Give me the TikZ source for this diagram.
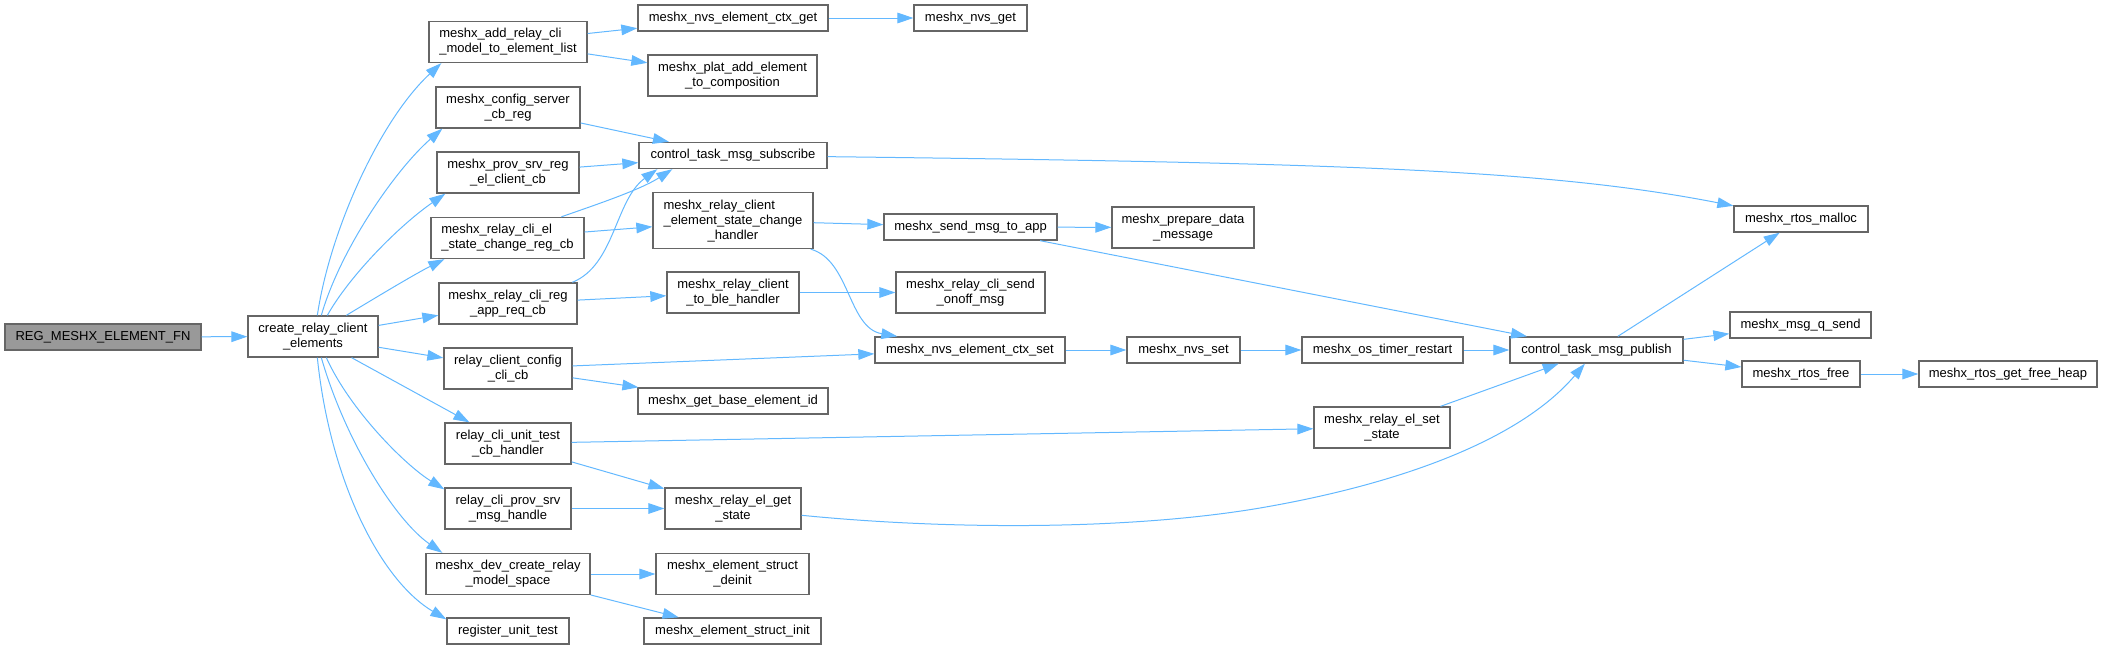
\documentclass[tikz,border=0pt]{standalone}
\usepackage{fontspec}
\setmainfont{Liberation Sans}
\usetikzlibrary{arrows.meta,calc}
\definecolor{edgeblue}{HTML}{63B8FF}
\definecolor{nodeborder}{HTML}{666666}
\definecolor{rootfill}{HTML}{999999}
\tikzset{
 fn/.style={draw=nodeborder, fill=white, line width=1pt, inner sep=0pt, align=center,
   font=\fontsize{9.75}{11.25}\selectfont, text=black},
 wd/.style={minimum width=#1*0.75pt},
 h1/.style={minimum height=19.5pt},
 h2/.style={minimum height=30.75pt},
 h3/.style={minimum height=42pt},
 edge/.style={draw=edgeblue, line width=0.75pt, -{Triangle[length=12pt,width=8pt]}},
}
\begin{document}
\begin{tikzpicture}[x=0.75pt,y=-0.75pt]
\useasboundingbox (0,0) rectangle (2102,650);
% column 1-2
\node[fn,wd=196,h1,fill=rootfill] (reg) at (103,337) {REG\_MESHX\_ELEMENT\_FN};
\node[fn,wd=130,h2] (create) at (313,336.5) {create\_relay\_client\\\_elements};
\node[fn,wd=158,h2] (addcli) at (508,42) {\begin{tabular}[b]{@{}l@{}}meshx\_add\_relay\_cli\\\_model\_to\_element\_list\end{tabular}};
\node[fn,wd=144,h2] (cfgsrv) at (508,107.5) {meshx\_config\_server\\\_cb\_reg};
\node[fn,wd=142,h2] (provsrv) at (508,172.5) {meshx\_prov\_srv\_reg\\\_el\_client\_cb};
\node[fn,wd=153,h2] (elreg) at (507.5,238) {\begin{tabular}[b]{@{}l@{}}meshx\_relay\_cli\_el\\\_state\_change\_reg\_cb\end{tabular}};
\node[fn,wd=138,h2] (appreq) at (508,303.5) {meshx\_relay\_cli\_reg\\\_app\_req\_cb};
\node[fn,wd=128,h2] (cfgcli) at (508,368.5) {relay\_client\_config\\\_cli\_cb};
\node[fn,wd=126,h2] (unittest) at (508,443.5) {relay\_cli\_unit\_test\\\_cb\_handler};
\node[fn,wd=126,h2] (provmsg) at (508,508.5) {relay\_cli\_prov\_srv\\\_msg\_handle};
\node[fn,wd=164,h2] (devcreate) at (508,574) {meshx\_dev\_create\_relay\\\_model\_space};
\node[fn,wd=122,h1] (regunit) at (508,631) {register\_unit\_test};
% column 3
\node[fn,wd=190,h1] (ctxget) at (733,18) {meshx\_nvs\_element\_ctx\_get};
\node[fn,wd=169,h2] (plat) at (732.5,75.5) {meshx\_plat\_add\_element\\\_to\_composition};
\node[fn,wd=188,h1] (subscribe) at (733,155.5) {control\_task\_msg\_subscribe};
\node[fn,wd=160,h3] (schandler) at (733,220.5) {\begin{tabular}[b]{@{}l@{}}meshx\_relay\_client\\\_element\_state\_change\end{tabular}\\\_handler};
\node[fn,wd=132,h2] (toble) at (733,292.5) {meshx\_relay\_client\\\_to\_ble\_handler};
\node[fn,wd=190,h1] (baseid) at (733,401) {meshx\_get\_base\_element\_id};
\node[fn,wd=136,h2] (getstate) at (733,508.5) {meshx\_relay\_el\_get\\\_state};
\node[fn,wd=153,h2] (deinit) at (732.5,574) {meshx\_element\_struct\\\_deinit};
\node[fn,wd=177,h1] (init) at (732.5,631) {meshx\_element\_struct\_init};
% column 4
\node[fn,wd=113,h1] (nvsget) at (970.5,18) {meshx\_nvs\_get};
\node[fn,wd=173,h1] (sendapp) at (970.5,227) {meshx\_send\_msg\_to\_app};
\node[fn,wd=149,h2] (onoff) at (970.5,292.5) {meshx\_relay\_cli\_send\\\_onoff\_msg};
\node[fn,wd=190,h1] (ctxset) at (970,350) {meshx\_nvs\_element\_ctx\_set};
% column 5-6
\node[fn,wd=142,h2] (prepare) at (1183,227.5) {meshx\_prepare\_data\\\_message};
\node[fn,wd=113,h1] (nvsset) at (1183.5,350) {meshx\_nvs\_set};
\node[fn,wd=161,h1] (timer) at (1382.5,350) {meshx\_os\_timer\_restart};
\node[fn,wd=136,h2] (setstate) at (1382,427.5) {meshx\_relay\_el\_set\\\_state};
% column 7-9
\node[fn,wd=173,h1] (publish) at (1596.5,350) {control\_task\_msg\_publish};
\node[fn,wd=134,h1] (malloc) at (1801,219) {meshx\_rtos\_malloc};
\node[fn,wd=141,h1] (qsend) at (1800.5,325) {meshx\_msg\_q\_send};
\node[fn,wd=118,h1] (free) at (1801,374) {meshx\_rtos\_free};
\node[fn,wd=178,h1] (heap) at (2008,374) {meshx\_rtos\_get\_free\_heap};
% edges
\draw[edge] (reg) -- (create);
\draw[edge] ($(create.north west)+(70,0)$) .. controls (330,230) and (380,120) .. ($(addcli.south west)+(13,0)$);
\draw[edge] ($(create.north west)+(74,0)$) .. controls (340,250) and (395,170) .. ($(cfgsrv.south west)+(7,0)$);
\draw[edge] ($(create.north west)+(80,0)$) .. controls (350,275) and (400,225) .. ($(provsrv.south west)+(9,0)$);
\draw[edge] ($(create.north west)+(99,0)$) .. controls (375,298) and (415,274) .. ($(elreg.south west)+(14,0)$);
\draw[edge] (create) -- (appreq);
\draw[edge] (create) -- (cfgcli);
\draw[edge] (create) -- (unittest);
\draw[edge] ($(create.south west)+(79,0)$) .. controls (350,410) and (405,465) .. ($(provmsg.north west)+(0,2)$);
\draw[edge] ($(create.south west)+(74,0)$) .. controls (345,440) and (395,520) .. ($(devcreate.north west)+(17,0)$);
\draw[edge] ($(create.south west)+(70,0)$) .. controls (330,480) and (380,580) .. ($(regunit.north west)+(0,2)$);
\draw[edge] (addcli) -- (ctxget);
\draw[edge] (addcli) -- (plat);
\draw[edge] (cfgsrv) -- (subscribe);
\draw[edge] (provsrv) -- (subscribe);
\draw[edge] ($(elreg.north west)+(131,0)$) .. controls (595,205) and (640,190) .. ($(subscribe.south west)+(34,0)$);
\draw[edge] (elreg) -- (schandler);
\draw[edge] ($(appreq.north west)+(134,0)$) .. controls (615,265) and (615,200) .. ($(subscribe.south west)+(19,0)$);
\draw[edge] (appreq) -- (toble);
\draw[edge] (cfgcli) -- (ctxset);
\draw[edge] (cfgcli) -- (baseid);
\draw[edge] (unittest) -- (setstate);
\draw[edge] (unittest) -- (getstate);
\draw[edge] (provmsg) -- (getstate);
\draw[edge] (devcreate) -- (deinit);
\draw[edge] (devcreate) -- (init);
\draw[edge] (ctxget) -- (nvsget);
\draw[edge] (subscribe) .. controls (1350,163) and (1550,170) .. (malloc);
\draw[edge] (schandler) -- (sendapp);
\draw[edge] ($(schandler.south east)+(-3,0)$) .. controls (850,260) and (848,328) .. ($(ctxset.north west)+(23,0)$);
\draw[edge] (toble) -- (onoff);
\draw[edge] (ctxset) -- (nvsset);
\draw[edge] (getstate) .. controls (950,530) and (1130,530) .. (1260,508) .. controls (1400,484) and (1520,440) .. (publish);
\draw[edge] (sendapp) -- (prepare);
\draw[edge] (sendapp) -- (publish);
\draw[edge] (nvsset) -- (timer);
\draw[edge] (timer) -- (publish);
\draw[edge] (setstate) -- (publish);
\draw[edge] (publish) -- (malloc);
\draw[edge] (publish) -- (qsend);
\draw[edge] (publish) -- (free);
\draw[edge] (free) -- (heap);
\end{tikzpicture}
\end{document}
